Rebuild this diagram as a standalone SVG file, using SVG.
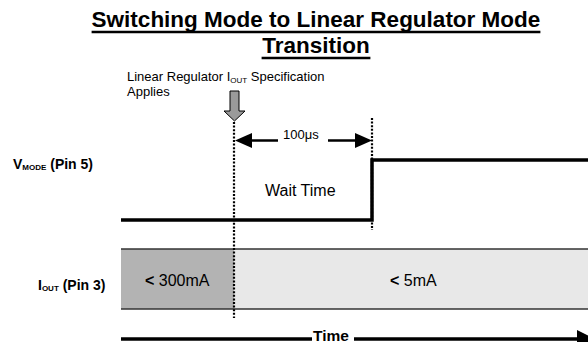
<svg xmlns="http://www.w3.org/2000/svg" width="588" height="342" viewBox="0 0 588 342">
<style>
text{font-family:"Liberation Sans",Arial,Helvetica,sans-serif;fill:#000}
.title{font-size:22.5px;font-weight:bold;text-anchor:middle}
.uline{stroke:#000;stroke-width:2.5}
.note{font-size:13px}
.lbl{font-size:14px;font-weight:bold}
.sub{font-size:8px}
.val{font-size:16px}
.dot{stroke:#000;stroke-width:2.2;stroke-dasharray:2 1.6;fill:none}
.sig{stroke:#000;stroke-width:3.5;fill:none;stroke-linejoin:miter}
.band{stroke:#333;stroke-width:1.6}
.dim{stroke:#000;stroke-width:2.5}
</style>
<rect width="588" height="342" fill="#fff"/>
<g id="title">
<text class="title" x="316" y="27">Switching Mode to Linear Regulator Mode</text>
<line class="uline" x1="91.6" y1="32" x2="540.4" y2="32"/>
<text class="title" x="316" y="53">Transition</text>
<line class="uline" x1="261.6" y1="58" x2="370.4" y2="58"/>
</g>
<g id="iout-band">
<rect x="121" y="249" width="113" height="60" fill="#b3b3b3"/>
<rect x="234" y="249" width="354" height="60" fill="#e8e8e8"/>
<line class="band" x1="121" y1="249" x2="588" y2="249"/>
<line class="band" x1="121" y1="309" x2="588" y2="309"/>
<text class="val" x="145" y="286"><tspan font-weight="bold">&lt;</tspan> 300mA</text>
<text class="val" x="390" y="286"><tspan font-weight="bold">&lt;</tspan> 5mA</text>
</g>
<g id="vmode-signal">
<polyline class="sig" points="121,220 372,220 372,160 588,160"/>
<text class="val" x="265" y="196">Wait Time</text>
</g>
<g id="labels">
<text class="lbl" x="13" y="169">V<tspan class="sub" dy="1">MODE</tspan><tspan dy="-1"> (Pin 5)</tspan></text>
<text class="lbl" x="38" y="290">I<tspan class="sub" dy="1">OUT</tspan><tspan dy="-1"> (Pin 3)</tspan></text>
</g>
<g id="annotation">
<text class="note" x="127" y="81">Linear Regulator I<tspan class="sub" dy="2">OUT</tspan><tspan dy="-2"> Specification</tspan></text>
<text class="note" x="127" y="96">Applies</text>
<polygon points="230,91 239,91 239,111 245,111 234.5,121 224,111 230,111" fill="#9a9a9a" stroke="#000" stroke-width="1"/>
</g>
<g id="connectors">
<line class="dot" x1="234" y1="122" x2="234" y2="318"/>
<line class="dot" x1="372" y1="118" x2="372" y2="230"/>
<line class="dim" x1="250" y1="140.5" x2="278" y2="140.5"/>
<polygon points="235,140.5 252,133 252,148" fill="#000"/>
<line class="dim" x1="328" y1="140.5" x2="357" y2="140.5"/>
<polygon points="355,133 372,140.5 355,148" fill="#000"/>
<text class="note" x="283" y="139">100μs</text>
<line class="sig" x1="121" y1="339" x2="312" y2="339"/>
<line class="sig" x1="354" y1="339" x2="580" y2="339"/>
<polygon points="577,330 595,339 577,348" fill="#000"/>
<text x="313" y="340.5" font-size="15.5" font-weight="bold">Time</text>
</g>
</svg>
